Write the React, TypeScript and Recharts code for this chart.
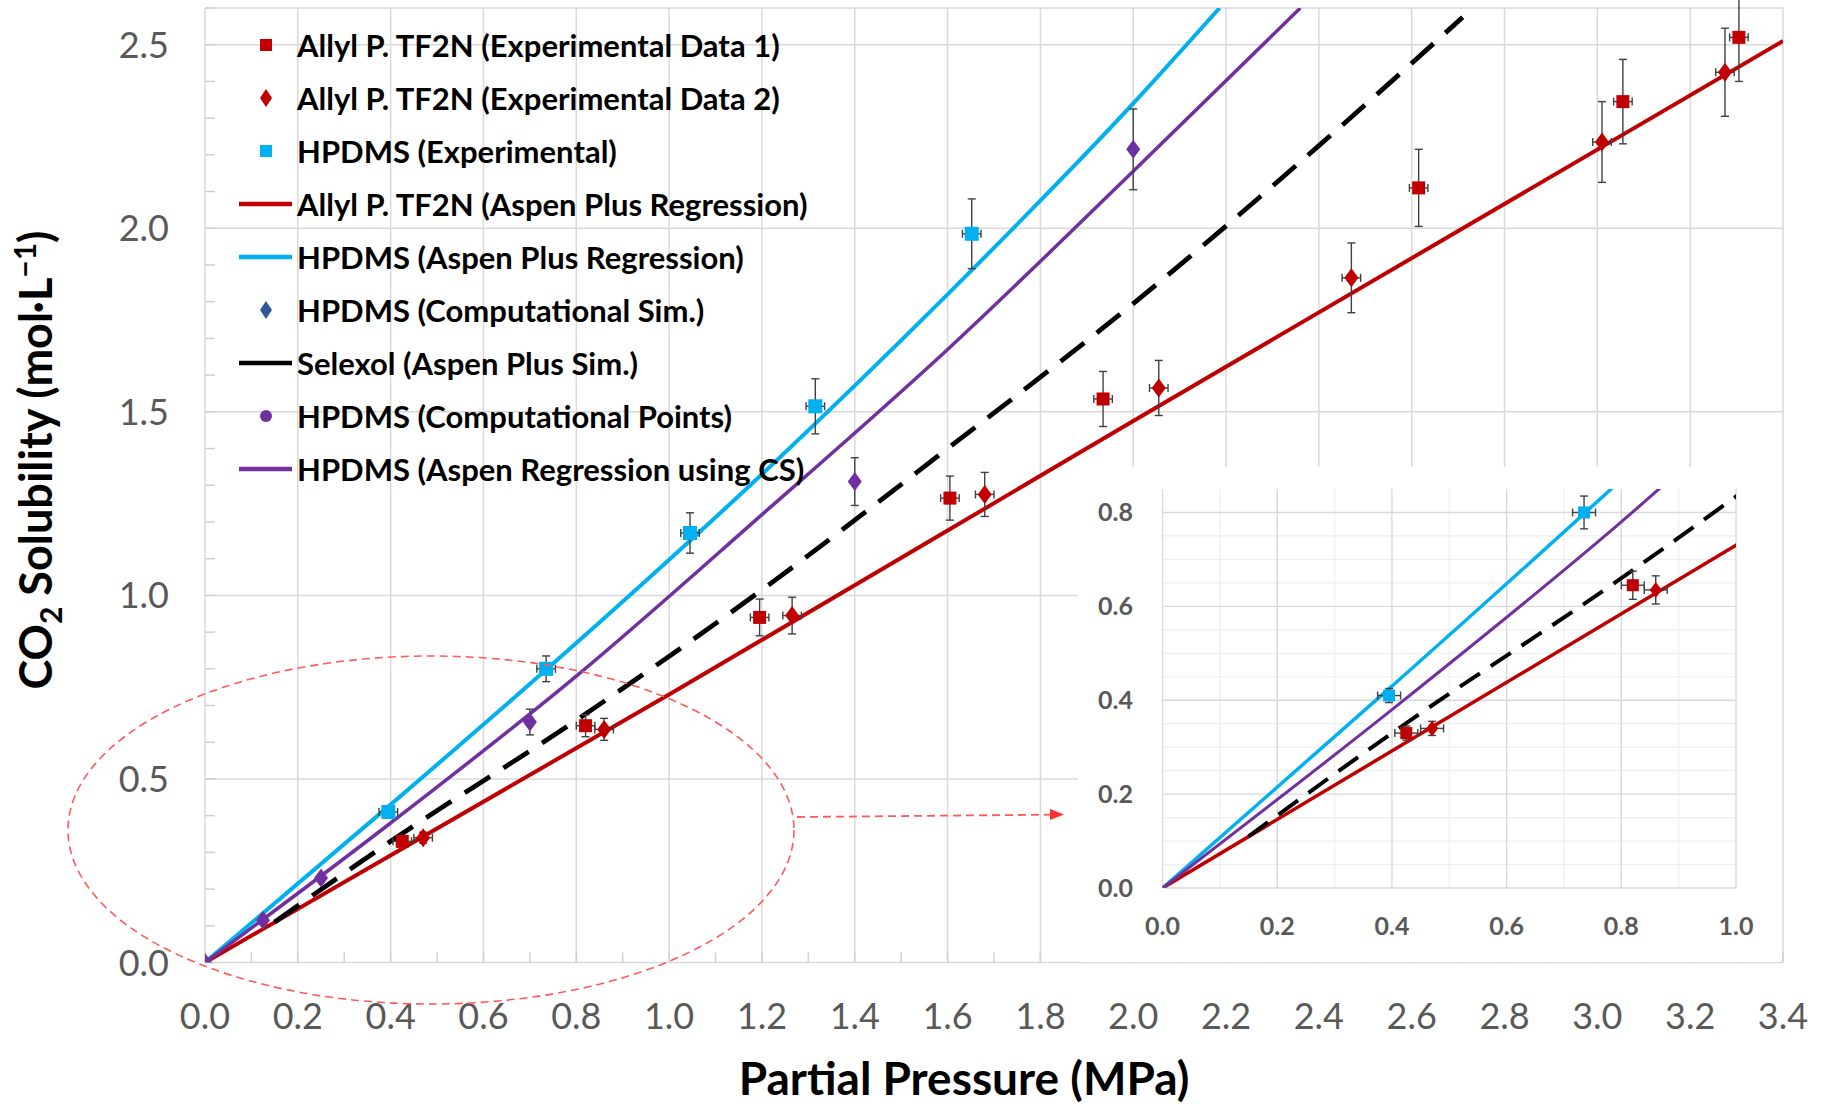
import React from "react";
import {
  ComposedChart,
  Line,
  Scatter,
  XAxis,
  YAxis,
  CartesianGrid,
  ErrorBar,
} from "recharts";

// ---- values ----
const allylExp1 = [
  { x: 0.425, y: 0.33, ex: 0.02, ey: 0.015 },
  { x: 0.82, y: 0.645, ex: 0.02, ey: 0.03 },
  { x: 1.195, y: 0.94, ex: 0.02, ey: 0.05 },
  { x: 1.605, y: 1.265, ex: 0.02, ey: 0.06 },
  { x: 1.935, y: 1.535, ex: 0.02, ey: 0.075 },
  { x: 2.615, y: 2.11, ex: 0.02, ey: 0.105 },
  { x: 3.055, y: 2.345, ex: 0.02, ey: 0.115 },
  { x: 3.305, y: 2.52, ex: 0.02, ey: 0.12 },
];

const allylExp2 = [
  { x: 0.47, y: 0.34, ex: 0.02, ey: 0.015 },
  { x: 0.86, y: 0.635, ex: 0.02, ey: 0.03 },
  { x: 1.265, y: 0.945, ex: 0.02, ey: 0.05 },
  { x: 1.68, y: 1.275, ex: 0.02, ey: 0.06 },
  { x: 2.055, y: 1.565, ex: 0.02, ey: 0.075 },
  { x: 2.47, y: 1.865, ex: 0.02, ey: 0.095 },
  { x: 3.01, y: 2.235, ex: 0.02, ey: 0.11 },
  { x: 3.275, y: 2.425, ex: 0.02, ey: 0.12 },
];

const hpdmsExp = [
  { x: 0.395, y: 0.41, ex: 0.02, ey: 0.015 },
  { x: 0.735, y: 0.8, ex: 0.02, ey: 0.035 },
  { x: 1.045, y: 1.17, ex: 0.02, ey: 0.055 },
  { x: 1.315, y: 1.515, ex: 0.02, ey: 0.075 },
  { x: 1.652, y: 1.985, ex: 0.02, ey: 0.095 },
];

const hpdmsCompPts = [
  { x: 0, y: 0, ey: 0 },
  { x: 0.125, y: 0.115, ey: 0.01 },
  { x: 0.25, y: 0.23, ey: 0.01 },
  { x: 0.7, y: 0.655, ey: 0.035 },
  { x: 1.4, y: 1.31, ey: 0.065 },
  { x: 2.0, y: 2.215, ey: 0.11 },
];

const allylRegX = [0, 1.0, 2.0, 3.4];
const allylRegY = [0, 0.73, 1.475, 2.51];
const hpdmsRegX = [0, 0.4, 0.8, 1.2, 1.6, 2.0, 2.186];
const hpdmsRegY = [0, 0.43, 0.87, 1.33, 1.82, 2.34, 2.6];
const csRegX = [0, 0.4, 0.8, 1.2, 1.6, 2.0, 2.36];
const csRegY = [0, 0.38, 0.78, 1.22, 1.67, 2.155, 2.6];
const selexolX = [0.15, 0.4, 0.8, 1.2, 1.6, 2.0, 2.4, 2.71];
const selexolY = [0.11, 0.33, 0.66, 1.015, 1.4, 1.795, 2.225, 2.575];

// ticks / grid
const xMajorTicks = [0, 0.2, 0.4, 0.6, 0.8, 1.0, 1.2, 1.4, 1.6, 1.8, 2.0, 2.2, 2.4, 2.6, 2.8, 3.0, 3.2, 3.4];
const xMinorTicks = [0, 0.1, 0.2, 0.3, 0.4, 0.5, 0.6, 0.7, 0.8, 0.9, 1.0, 1.1, 1.2, 1.3, 1.4, 1.5, 1.6, 1.7, 1.8, 1.9, 2.0, 2.1, 2.2, 2.3, 2.4, 2.5, 2.6, 2.7, 2.8, 2.9, 3.0, 3.1, 3.2, 3.3, 3.4];
const yMajorTicks = [0, 0.5, 1.0, 1.5, 2.0, 2.5];
const yMinorTicks = [0, 0.1, 0.2, 0.3, 0.4, 0.5, 0.6, 0.7, 0.8, 0.9, 1.0, 1.1, 1.2, 1.3, 1.4, 1.5, 1.6, 1.7, 1.8, 1.9, 2.0, 2.1, 2.2, 2.3, 2.4, 2.5, 2.6];
const yGridMain = [0, 0.5, 1.0, 1.5, 2.0, 2.5, 2.6];

const insetXTicks = [0, 0.2, 0.4, 0.6, 0.8, 1.0];
const insetYTicks = [0, 0.2, 0.4, 0.6, 0.8];
const insetXMinor = [0.1, 0.3, 0.5, 0.7, 0.9];
const insetYMinor = [0.05, 0.1, 0.15, 0.25, 0.3, 0.35, 0.45, 0.5, 0.55, 0.65, 0.7, 0.75];

const RED = "#C00000";
const CYAN = "#00B0F0";
const PURPLE = "#7030A0";
const NAVY = "#2F5597";
const FONT = "Lato, 'Open Sans', sans-serif";

const toPoints = (xs: number[], ys: number[]) => xs.map((x, i) => ({ x, y: ys[i] }));
const allylReg = toPoints(allylRegX, allylRegY);
const hpdmsReg = toPoints(hpdmsRegX, hpdmsRegY);
const csReg = toPoints(csRegX, csRegY);
const selexol = toPoints(selexolX, selexolY);

const legendItems = [
  { label: "Allyl P. TF2N (Experimental Data 1)", kind: "square", color: RED },
  { label: "Allyl P. TF2N (Experimental Data 2)", kind: "diamond", color: RED },
  { label: "HPDMS (Experimental)", kind: "square", color: CYAN },
  { label: "Allyl P. TF2N (Aspen Plus Regression)", kind: "line", color: RED },
  { label: "HPDMS (Aspen Plus Regression)", kind: "line", color: CYAN },
  { label: "HPDMS (Computational Sim.)", kind: "diamond", color: NAVY },
  { label: "Selexol (Aspen Plus Sim.)", kind: "line", color: "#000" },
  { label: "HPDMS (Computational Points)", kind: "circle", color: PURPLE },
  { label: "HPDMS (Aspen Regression using CS)", kind: "line", color: PURPLE },
];

const isIn = (arr: number[], v: number) => arr.some((t) => Math.abs(t - v) < 1e-6);

const square = (color: string, s: number) => (p: any) => (
  <rect x={p.cx - s / 2} y={p.cy - s / 2} width={s} height={s} fill={color} />
);
const diamond = (color: string, w: number, h: number) => (p: any) => (
  <polygon
    points={`${p.cx},${p.cy - h / 2} ${p.cx + w / 2},${p.cy} ${p.cx},${p.cy + h / 2} ${p.cx - w / 2},${p.cy}`}
    fill={color}
  />
);

const MainXTick = (props: any) => {
  const { x, y, payload } = props;
  if (!isIn(xMajorTicks, payload.value)) return <g />;
  return (
    <text x={x} y={y} textAnchor="middle" fill="#595959" fontSize={36} fontFamily={FONT}>
      {payload.value.toFixed(1)}
    </text>
  );
};

const MainYTick = (props: any) => {
  const { x, y, payload } = props;
  if (!isIn(yMajorTicks, payload.value)) return <g />;
  return (
    <text x={x} y={y} dy={13} textAnchor="end" fill="#595959" fontSize={36} fontFamily={FONT}>
      {payload.value.toFixed(1)}
    </text>
  );
};

const InsetXTick = (props: any) => (
  <text x={props.x} y={props.y} textAnchor="middle" fill="#595959" fontSize={25} fontWeight={700} fontFamily={FONT}>
    {props.payload.value.toFixed(1)}
  </text>
);

const InsetYTick = (props: any) => (
  <text x={props.x} y={props.y} dy={9} textAnchor="end" fill="#595959" fontSize={25} fontWeight={700} fontFamily={FONT}>
    {props.payload.value.toFixed(1)}
  </text>
);

const errStyle = { stroke: "#404040", strokeWidth: 1.4 };

const LegendMarker = ({ kind, color }: { kind: string; color: string }) => (
  <svg width={53} height={24} style={{ flex: "none" }}>
    {kind === "line" && <line x1={0} y1={12} x2={53} y2={12} stroke={color} strokeWidth={4.5} />}
    {kind === "square" && <rect x={21} y={6} width={12} height={12} fill={color} />}
    {kind === "diamond" && <polygon points="27,3 33,12 27,21 21,12" fill={color} />}
    {kind === "circle" && <circle cx={27} cy={12} r={6} fill={color} />}
  </svg>
);

export default function App() {
  const insetFilter = (d: { x: number }[]) => d.filter((p) => p.x <= 1);
  return (
    <div style={{ position: "absolute", left: 0, top: 0, width: 1827, height: 1109, background: "#fff", fontFamily: FONT }}>
      <ComposedChart width={1827} height={1109} margin={{ top: 8, right: 44, bottom: 46.5, left: 105 }}>
        <CartesianGrid stroke="#d9d9d9" strokeWidth={1.5} horizontalValues={yGridMain} verticalValues={xMajorTicks} />
        <XAxis
          type="number"
          dataKey="x"
          domain={[0, 3.4]}
          allowDataOverflow
          ticks={xMinorTicks}
          interval={0}
          height={100}
          axisLine={false}
          tickLine={{ stroke: "#d0d0d0", strokeWidth: 1.5 }}
          tickSize={-10}
          tickMargin={76.5}
          tick={MainXTick}
        />
        <YAxis
          type="number"
          dataKey="y"
          domain={[0, 2.6]}
          allowDataOverflow
          ticks={yMinorTicks}
          interval={0}
          width={100}
          axisLine={false}
          tickLine={{ stroke: "#d0d0d0", strokeWidth: 1.5 }}
          tickSize={-10}
          tickMargin={46}
          tick={MainYTick}
        />
        <Line data={allylReg} dataKey="y" type="monotone" stroke={RED} strokeWidth={4} dot={false} isAnimationActive={false} />
        <Line data={hpdmsReg} dataKey="y" type="monotone" stroke={CYAN} strokeWidth={4} dot={false} isAnimationActive={false} />
        <Line data={csReg} dataKey="y" type="monotone" stroke={PURPLE} strokeWidth={3.5} dot={false} isAnimationActive={false} />
        <Line data={selexol} dataKey="y" type="monotone" stroke="#000" strokeWidth={4.8} strokeDasharray="30 16" dot={false} isAnimationActive={false} />
        <Scatter data={hpdmsCompPts} dataKey="y" shape={diamond(PURPLE, 14, 19)} isAnimationActive={false}>
          <ErrorBar dataKey="ey" direction="y" width={4} {...errStyle} />
        </Scatter>
        <Scatter data={hpdmsExp} dataKey="y" shape={square(CYAN, 14)} isAnimationActive={false}>
          <ErrorBar dataKey="ey" direction="y" width={4} {...errStyle} />
          <ErrorBar dataKey="ex" direction="x" width={4} {...errStyle} />
        </Scatter>
        <Scatter data={allylExp1} dataKey="y" shape={square(RED, 13)} isAnimationActive={false}>
          <ErrorBar dataKey="ey" direction="y" width={4} {...errStyle} />
          <ErrorBar dataKey="ex" direction="x" width={4} {...errStyle} />
        </Scatter>
        <Scatter data={allylExp2} dataKey="y" shape={diamond(RED, 14, 19)} isAnimationActive={false}>
          <ErrorBar dataKey="ey" direction="y" width={4} {...errStyle} />
          <ErrorBar dataKey="ex" direction="x" width={4} {...errStyle} />
        </Scatter>
      </ComposedChart>

      {/* legend */}
      <div style={{ position: "absolute", left: 239, top: 19, fontWeight: 700, fontSize: 31, color: "#000" }}>
        {legendItems.map((it) => (
          <div key={it.label} style={{ display: "flex", alignItems: "center", height: 52.9, whiteSpace: "nowrap" }}>
            <LegendMarker kind={it.kind} color={it.color} />
            <span style={{ marginLeft: 5 }}>{it.label}</span>
          </div>
        ))}
      </div>

      {/* inset: zoom of the low-pressure region */}
      <div style={{ position: "absolute", left: 1078, top: 467, width: 704, height: 495, background: "#fff" }}>
        <ComposedChart width={704} height={495} margin={{ top: 22, right: 46, bottom: 24, left: 24.6 }}>
          <CartesianGrid stroke="#eeeeee" strokeWidth={1.2} horizontalValues={insetYMinor} verticalValues={insetXMinor} />
          <CartesianGrid stroke="#d9d9d9" strokeWidth={1.4} horizontalValues={insetYTicks} verticalValues={insetXTicks} />
          <XAxis
            type="number"
            dataKey="x"
            domain={[0, 1]}
            allowDataOverflow
            ticks={insetXTicks}
            interval={0}
            height={50}
            axisLine={false}
            tickLine={false}
            tickSize={0}
            tickMargin={47}
            tick={InsetXTick}
          />
          <YAxis
            type="number"
            dataKey="y"
            domain={[0, 0.85]}
            allowDataOverflow
            ticks={insetYTicks}
            interval={0}
            width={60}
            axisLine={false}
            tickLine={false}
            tickSize={0}
            tickMargin={29.6}
            tick={InsetYTick}
          />
          <Line data={allylReg} dataKey="y" type="monotone" stroke={RED} strokeWidth={3.5} dot={false} isAnimationActive={false} />
          <Line data={hpdmsReg} dataKey="y" type="monotone" stroke={CYAN} strokeWidth={3.5} dot={false} isAnimationActive={false} />
          <Line data={csReg} dataKey="y" type="monotone" stroke={PURPLE} strokeWidth={3} dot={false} isAnimationActive={false} />
          <Line data={selexol} dataKey="y" type="monotone" stroke="#000" strokeWidth={4} strokeDasharray="24 13" dot={false} isAnimationActive={false} />
          <Scatter data={insetFilter(hpdmsExp)} dataKey="y" shape={square(CYAN, 12)} isAnimationActive={false}>
            <ErrorBar dataKey="ey" direction="y" width={4} {...errStyle} />
            <ErrorBar dataKey="ex" direction="x" width={4} {...errStyle} />
          </Scatter>
          <Scatter data={insetFilter(allylExp1)} dataKey="y" shape={square(RED, 12)} isAnimationActive={false}>
            <ErrorBar dataKey="ey" direction="y" width={4} {...errStyle} />
            <ErrorBar dataKey="ex" direction="x" width={4} {...errStyle} />
          </Scatter>
          <Scatter data={insetFilter(allylExp2)} dataKey="y" shape={diamond(RED, 12, 16)} isAnimationActive={false}>
            <ErrorBar dataKey="ey" direction="y" width={4} {...errStyle} />
            <ErrorBar dataKey="ex" direction="x" width={4} {...errStyle} />
          </Scatter>
        </ComposedChart>
      </div>

      {/* annotations and axis titles */}
      <svg width={1827} height={1109} style={{ position: "absolute", left: 0, top: 0, pointerEvents: "none" }}>
        <ellipse cx={431} cy={830} rx={363} ry={174} fill="none" stroke="#FF5A5A" strokeWidth={1.6} strokeDasharray="8 5" />
        <line x1={797} y1={817} x2={1050} y2={814.7} stroke="#FF5A5A" strokeWidth={1.8} strokeDasharray="8 5" />
        <polygon points="1064,814.5 1050,809 1050,820" fill="#FF3030" />
        <text x={964} y={1095} textAnchor="middle" fontSize={46} fontWeight={700} fontFamily={FONT} fill="#000">
          Partial Pressure (MPa)
        </text>
        <text
          x={36}
          y={460}
          dy={16}
          textAnchor="middle"
          fontSize={45}
          fontWeight={700}
          fontFamily={FONT}
          fill="#000"
          transform="rotate(-90 36 460)"
        >
          <tspan>CO</tspan>
          <tspan fontSize={30} dy={10}>2</tspan>
          <tspan dy={-10}> Solubility (mol·L</tspan>
          <tspan fontSize={30} dy={-16}>−1</tspan>
          <tspan dy={16}>)</tspan>
        </text>
      </svg>
    </div>
  );
}
